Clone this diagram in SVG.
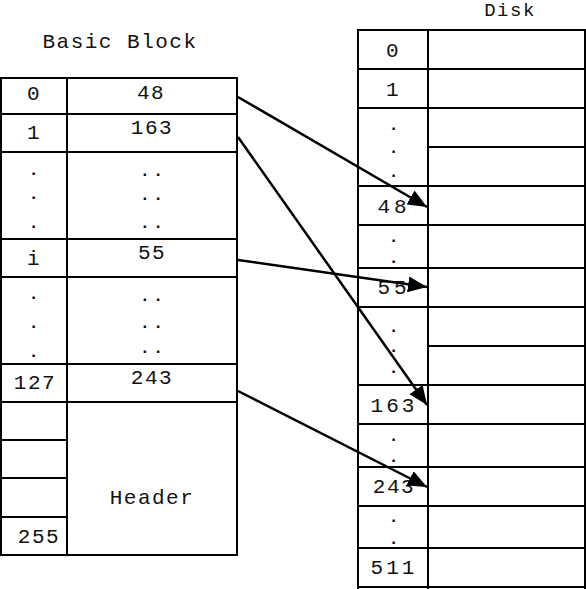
<svg xmlns="http://www.w3.org/2000/svg" width="586" height="589" viewBox="0 0 586 589">
<defs>
<style>
.g line{stroke:#000;stroke-width:2}
text{font-family:"Liberation Mono","Courier New",monospace;font-size:21px;fill:#111;text-anchor:middle;letter-spacing:1.5px}
text.d{font-size:17px;font-weight:bold;letter-spacing:3px}
.c line{stroke:#000;stroke-width:2.5}
</style>
<marker id="ah" markerUnits="userSpaceOnUse" markerWidth="20" markerHeight="16" refX="19" refY="8" orient="auto">
<path d="M0,0 L19,8 L0,16 z" fill="#000"/>
</marker>
</defs>
<rect width="586" height="589" fill="#fff"/>

<g id="basic-block" class="g">
<text x="120" y="48">Basic Block</text>
<line x1="1" y1="77" x2="1" y2="556"/>
<line x1="67" y1="77" x2="67" y2="556"/>
<line x1="237" y1="77" x2="237" y2="556"/>
<line x1="0" y1="78" x2="238" y2="78"/>
<line x1="0" y1="114" x2="238" y2="114"/>
<line x1="0" y1="152" x2="238" y2="152"/>
<line x1="0" y1="239" x2="238" y2="239"/>
<line x1="0" y1="277" x2="238" y2="277"/>
<line x1="0" y1="364" x2="238" y2="364"/>
<line x1="0" y1="402" x2="238" y2="402"/>
<line x1="0" y1="440" x2="67" y2="440"/>
<line x1="0" y1="478" x2="67" y2="478"/>
<line x1="0" y1="517" x2="67" y2="517"/>
<line x1="0" y1="555" x2="238" y2="555"/>
<text x="34" y="100">0</text>
<text x="151" y="99">48</text>
<text x="34" y="139">1</text>
<text x="152" y="134">163</text>
<text class="d" x="35" y="175">.</text>
<text class="d" x="35" y="199">.</text>
<text class="d" x="35" y="228">.</text>
<text class="d" x="153" y="176">..</text>
<text class="d" x="153" y="200">..</text>
<text class="d" x="153" y="228">..</text>
<text x="34" y="265">i</text>
<text x="152" y="259">55</text>
<text class="d" x="35" y="299">.</text>
<text class="d" x="35" y="328">.</text>
<text class="d" x="35" y="357">.</text>
<text class="d" x="153" y="301">..</text>
<text class="d" x="153" y="328">..</text>
<text class="d" x="153" y="353">..</text>
<text x="35" y="389">127</text>
<text x="152" y="384">243</text>
<text x="152" y="504">Header</text>
<text x="39" y="543">255</text>
</g>

<g id="disk" class="g">
<text x="510" y="16" style="font-size:19px">Disk</text>
<line x1="358" y1="29" x2="358" y2="589"/>
<line x1="428" y1="29" x2="428" y2="589"/>
<line x1="585" y1="29" x2="585" y2="589"/>
<line x1="357" y1="30" x2="586" y2="30"/>
<line x1="357" y1="69" x2="586" y2="69"/>
<line x1="357" y1="108" x2="586" y2="108"/>
<line x1="428" y1="147" x2="586" y2="147"/>
<line x1="357" y1="186" x2="586" y2="186"/>
<line x1="357" y1="225" x2="586" y2="225"/>
<line x1="357" y1="268" x2="586" y2="268"/>
<line x1="357" y1="307" x2="586" y2="307"/>
<line x1="428" y1="346" x2="586" y2="346"/>
<line x1="357" y1="385" x2="586" y2="385"/>
<line x1="357" y1="424" x2="586" y2="424"/>
<line x1="357" y1="467" x2="586" y2="467"/>
<line x1="357" y1="506" x2="586" y2="506"/>
<line x1="357" y1="548" x2="586" y2="548"/>
<line x1="357" y1="587" x2="586" y2="587"/>
<text x="393" y="57">0</text>
<text x="393" y="96">1</text>
<text class="d" x="395" y="130">.</text>
<text class="d" x="395" y="153">.</text>
<text class="d" x="395" y="177">.</text>
<text x="394" y="213" style="letter-spacing:4px">48</text>
<text class="d" x="395" y="242">.</text>
<text class="d" x="395" y="263">.</text>
<text x="394" y="294" style="letter-spacing:4px">55</text>
<text class="d" x="395" y="332">.</text>
<text class="d" x="395" y="352">.</text>
<text class="d" x="395" y="373">.</text>
<text x="394" y="412" style="letter-spacing:3px">163</text>
<text class="d" x="395" y="441">.</text>
<text class="d" x="395" y="462">.</text>
<text x="394" y="493">243</text>
<text class="d" x="395" y="522">.</text>
<text class="d" x="395" y="544">.</text>
<text x="394" y="574" style="letter-spacing:3px">511</text>
</g>

<g id="connectors" class="c">
<line x1="238" y1="97" x2="427" y2="207" marker-end="url(#ah)"/>
<line x1="238" y1="137" x2="427" y2="405" marker-end="url(#ah)"/>
<line x1="238" y1="260" x2="427" y2="287" marker-end="url(#ah)"/>
<line x1="238" y1="391" x2="427" y2="487" marker-end="url(#ah)"/>
</g>
</svg>
